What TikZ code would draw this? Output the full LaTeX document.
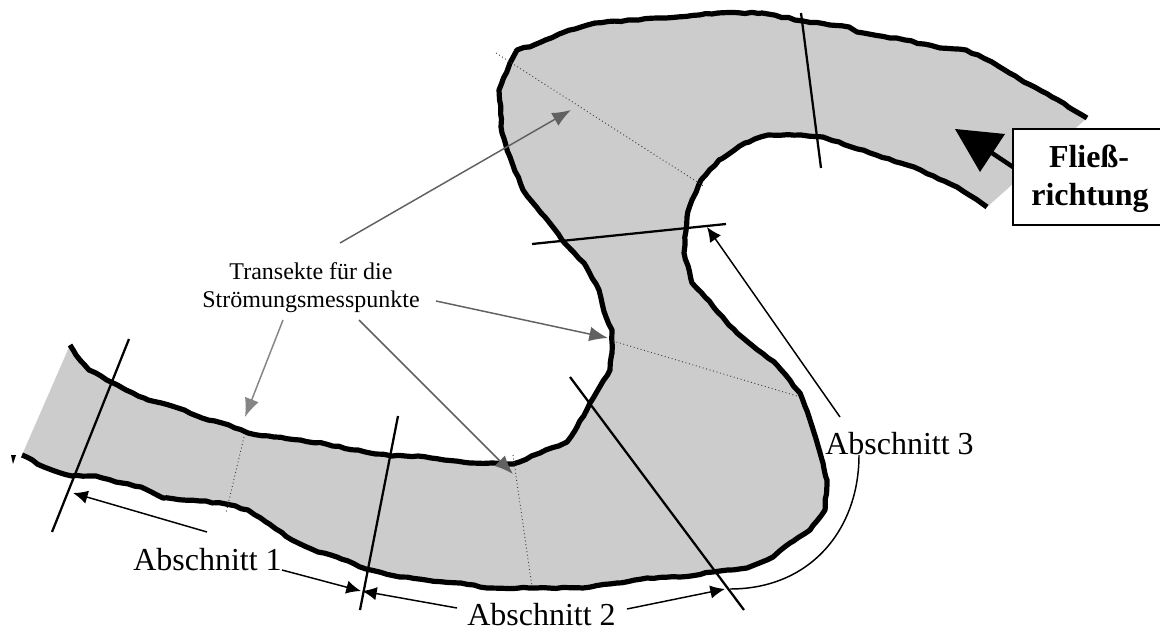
\documentclass[tikz,border=0pt]{standalone}
\usepackage{fontspec}
\setmainfont{Liberation Serif}
\usetikzlibrary{arrows.meta,decorations.pathmorphing}
\tikzset{
  x=0.75pt,y=-0.75pt,
  bank/.style={line width=3.9pt,line join=round,black,decorate,decoration={random steps,segment length=5pt,amplitude=0.5pt}},
  cutline/.style={line width=1.7pt,black},
  thinline/.style={line width=1.1pt,black},
  transect/.style={line width=0.7pt,dotted,black!75},
  callout/.style={line width=1.1pt,black,-{Latex[length=11pt,width=10pt]}},
  darkcall/.style={line width=1.1pt,black!62,-{Latex[length=14pt,width=11pt]}},
  lightcall/.style={line width=1.1pt,black!48,-{Latex[length=14pt,width=11pt]}},
  lbl/.style={inner sep=0pt,anchor=base west,font=\fontsize{24}{28}\selectfont},
  smalllbl/.style={inner sep=0pt,align=center,font=\fontsize{18}{21}\selectfont},
  flowlbl/.style={inner sep=0pt,anchor=base,font=\fontsize{24}{28}\selectfont\bfseries}
}
\pgfmathsetseed{7}
\begin{document}
\begin{tikzpicture}
\useasboundingbox (0,0) rectangle (1160,631);
% river surface
\fill[black!20] (70,345) -- (76,355) -- (89,370) -- (111,382) -- (126,390) -- (148,400) -- (178,408) -- (202,418) -- (222,423) -- (248,433) -- (274,437) -- (326,444) -- (370,453) -- (392,456) -- (418,456) -- (470,463) -- (492,463) -- (513,464) -- (540,453) -- (567,442) -- (577,427) -- (590,403) -- (610,370) -- (612,353) -- (612,330) -- (606,317) -- (599,290) -- (584,263) -- (562,240) -- (545,217) -- (523,190) -- (510,157) -- (502,133) -- (499,90) -- (510,63) -- (517,50) -- (534,45) -- (562,33) -- (595,23) -- (632,20) -- (666,18) -- (718,13) -- (762,13) -- (803,21) -- (849,27) -- (857,32) -- (905,40) -- (940,48) -- (966,50) -- (992,62) -- (1018,78) -- (1052,97) -- (1087,118) -- (987,207) -- (957,187) -- (914,167) -- (870,153) -- (823,137) -- (801,135) -- (768,135) -- (745,143) -- (719,160) -- (701,180) -- (692,200) -- (687,217) -- (684,253) -- (692,283) -- (705,297) -- (725,320) -- (737,333) -- (777,365) -- (800,393) -- (810,420) -- (823,463) -- (827,480) -- (825,510) -- (810,530) -- (790,543) -- (773,557) -- (747,568) -- (713,572) -- (680,577) -- (647,578) -- (617,583) -- (583,588) -- (487,588) -- (474,585) -- (400,577) -- (366,569) -- (337,557) -- (318,552) -- (292,540) -- (266,522) -- (248,510) -- (226,504) -- (200,501) -- (163,498) -- (141,487) -- (122,483) -- (96,476) -- (72,476) -- (44,467) -- (22,455) -- cycle;
\draw[bank] (70,345) -- (76,355) -- (89,370) -- (111,382) -- (126,390) -- (148,400) -- (178,408) -- (202,418) -- (222,423) -- (248,433) -- (274,437) -- (326,444) -- (370,453) -- (392,456) -- (418,456) -- (470,463) -- (492,463) -- (513,464) -- (540,453) -- (567,442) -- (577,427) -- (590,403) -- (610,370) -- (612,353) -- (612,330) -- (606,317) -- (599,290) -- (584,263) -- (562,240) -- (545,217) -- (523,190) -- (510,157) -- (502,133) -- (499,90) -- (510,63) -- (517,50) -- (534,45) -- (562,33) -- (595,23) -- (632,20) -- (666,18) -- (718,13) -- (762,13) -- (803,21) -- (849,27) -- (857,32) -- (905,40) -- (940,48) -- (966,50) -- (992,62) -- (1018,78) -- (1052,97) -- (1087,118);
\draw[bank] (987,207) -- (957,187) -- (914,167) -- (870,153) -- (823,137) -- (801,135) -- (768,135) -- (745,143) -- (719,160) -- (701,180) -- (692,200) -- (687,217) -- (684,253) -- (692,283) -- (705,297) -- (725,320) -- (737,333) -- (777,365) -- (800,393) -- (810,420) -- (823,463) -- (827,480) -- (825,510) -- (810,530) -- (790,543) -- (773,557) -- (747,568) -- (713,572) -- (680,577) -- (647,578) -- (617,583) -- (583,588) -- (487,588) -- (474,585) -- (400,577) -- (366,569) -- (337,557) -- (318,552) -- (292,540) -- (266,522) -- (248,510) -- (226,504) -- (200,501) -- (163,498) -- (141,487) -- (122,483) -- (96,476) -- (72,476) -- (44,467) -- (22,455);
\fill[black] (11,455) -- (16,455) -- (13,464) -- cycle;
% transects
\draw[transect] (244,437) -- (226,513);
\draw[transect] (513,455) -- (532,587);
\draw[transect] (613,341) -- (797,396);
\draw[transect] (496,53) -- (705,187);
% section limits
\draw[cutline] (129,339) -- (52,532);
\draw[cutline] (398,416) -- (360,610);
\draw[cutline] (570,377) -- (744,610);
\draw[cutline] (532,244) -- (726,224);
\draw[cutline] (801,13) -- (821,168);
% labels
\node[lbl] (ab1) at (133,570) {Abschnitt 1};
\node[lbl] (ab2) at (467,625) {Abschnitt 2};
\node[lbl] (ab3) at (825,454) {Abschnitt 3};
\node[smalllbl] (tr) at (311,288) {Transekte für die\\Strömungsmesspunkte};
% callouts
\coordinate (t1s) at (340,243); \coordinate (t1e) at (571,110);
\coordinate (t2s) at (436,301); \coordinate (t2e) at (608,338);
\coordinate (t3s) at (359,320); \coordinate (t3e) at (513,474);
\coordinate (t4s) at (283,320); \coordinate (t4e) at (245,417);
\draw[darkcall] (t1s) -- (t1e);
\draw[darkcall] (t2s) -- (t2e);
\draw[darkcall] (t3s) -- (t3e);
\draw[lightcall] (t4s) -- (t4e);
\coordinate (a1s) at (207,532); \coordinate (a1e) at (73,493);
\coordinate (a2s) at (282,570); \coordinate (a2e) at (361,591);
\coordinate (a3s) at (457,608); \coordinate (a3e) at (362,591);
\coordinate (a4s) at (627,609); \coordinate (a4e) at (725,589);
\coordinate (a5s) at (840,417); \coordinate (a5e) at (707,227);
\draw[callout] (a1s) -- (a1e);
\draw[callout] (a2s) -- (a2e);
\draw[callout] (a3s) -- (a3e);
\draw[callout] (a4s) -- (a4e);
\draw[callout] (a5s) -- (a5e);
\coordinate (cs) at (859,455); \coordinate (ce) at (730,589);
\draw[thinline] (cs) .. controls (859,530) and (810,589) .. (ce);
% flow box (right side runs off the picture)
\fill[white] (1013,129) rectangle (1160,225);
\draw[line width=1.6pt,black] (1160,129) -- (1013,129) -- (1013,225) -- (1160,225);
\node[flowlbl] (fl1) at (1089,168) {Fließ-};
\node[flowlbl] (fl2) at (1090,205) {richtung};
\coordinate (fs) at (1013,167); \coordinate (fb) at (992,153);
\draw[line width=3.4pt,black] (fs) -- (fb);
\fill[black] (955,129) -- (1005,134) -- (980,172) -- cycle;
\end{tikzpicture}
\end{document}
